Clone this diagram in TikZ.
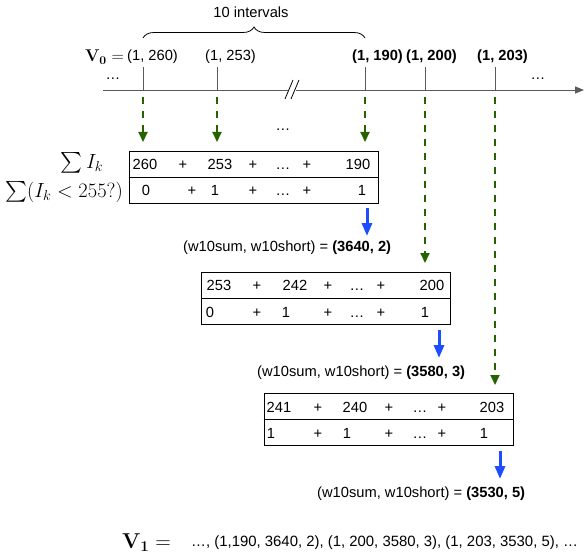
\RequirePackage{fix-cm}
\documentclass[tikz,border=0pt]{standalone}
\usepackage{exscale}
\usepackage[no-math]{fontspec}
\setmainfont{Liberation Sans}
\usetikzlibrary{arrows.meta,decorations.pathreplacing}
\definecolor{feedgreen}{RGB}{38,98,0}
\definecolor{sumblue}{RGB}{28,78,255}
\definecolor{axisgray}{RGB}{90,90,90}
\newcommand{\gapdots}{…}
\begin{document}
\begin{tikzpicture}[x=1pt,y=-1pt,
  every node/.style={inner sep=0pt, font=\fontsize{14.7}{17}\selectfont},
  celltxt/.style={text height=10.5pt, text depth=0pt},
  ticklbl/.style={anchor=west},
  tickline/.style={draw=axisgray, line width=0.9pt},
  feed/.style={feedgreen, line width=1.8pt, dash pattern=on 7pt off 7pt,
    -{Triangle[width=9pt,length=10pt]}},
  reduce/.style={sumblue, line width=3pt, -{Triangle[width=10pt,length=13pt]}},
  cellbox/.style={draw, line width=0.9pt, minimum width=249pt, minimum height=52pt},
  result/.style={anchor=west},
  mathlbl/.style={font=\fontsize{17}{19}\selectfont},
  sumlbl/.style={font=\fontsize{20.5}{23}\selectfont}]

\useasboundingbox (0,0) rectangle (586,556);

% ---- time axis with break ----
\coordinate (ax0) at (103,90);
\coordinate (ax1) at (584,90);
\draw[tickline, -{Triangle[width=7pt,length=9pt]}] (ax0) -- (ax1);
\fill[white] (289,86) rectangle (296,94);
\coordinate (brA0) at (285,99); \coordinate (brA1) at (293,80);
\coordinate (brB0) at (291,99); \coordinate (brB1) at (299,80);
\draw[line width=0.8pt] (brA0) -- (brA1);
\draw[line width=0.8pt] (brB0) -- (brB1);

% ticks
\foreach \x [count=\i] in {143,217,365,425,495} {
  \coordinate (t\i) at (\x,67);
  \coordinate (b\i) at (\x,90);
  \draw[tickline] (t\i) -- (b\i);
}

% axis labels
\node[mathlbl, anchor=east] (v0) at (124,57) {$\mathbf{V_0} =$};
\node[ticklbl] (l1) at (127,57) {(1, 260)};
\node[ticklbl] (l2) at (205,57) {(1, 253)};
\node[ticklbl] (l3) at (352,57) {\bfseries (1, 190)};
\node[ticklbl] (l4) at (406,57) {\bfseries (1, 200)};
\node[ticklbl] (l5) at (477,57) {\bfseries (1, 203)};
\node[celltxt] (dl) at (113,74) {\gapdots};
\node[celltxt] (dr) at (538,74) {\gapdots};

% brace over the window
\coordinate (brL) at (143,38);
\coordinate (brR) at (365,38);
\draw[line width=0.8pt, decorate, decoration={brace, amplitude=11pt, aspect=0.5}] (brL) -- (brR);
\node (win) at (251,12) {10 intervals};

% ---- green feed arrows ----
\foreach \i/\e in {1/142,2/142,3/142,4/263,5/385} {
  \path (b\i) ++(0,7) coordinate (gs\i);
  \path (b\i |- 0,\e) coordinate (ge\i);
  \draw[feed] (gs\i) -- (ge\i);
}
\node[celltxt] (dmid) at (283,125) {\gapdots};

% ---- window 1 ----
\node[cellbox] (w1) at (253.5,177) {};
\draw[line width=0.9pt] (w1.west) -- (w1.east);
\foreach \x/\t [count=\i] in {145/260,183/+,220/253,253/+,283/\gapdots,307/+,358/190}
  \node[celltxt] (wa\i) at (\x,164) {\t};
\foreach \x/\t [count=\i] in {146/0,192/+,215/1,253/+,283/\gapdots,307/+,362/1}
  \node[celltxt] (wb\i) at (\x,190) {\t};
\node[sumlbl] (suma) at (82,163) {$\sum I_k$};
\node[sumlbl] (sumb) at (64,192) {$\sum(I_k < 255?)$};
\coordinate (r1s) at (367,208);
\coordinate (r1e) at (367,236);
\draw[reduce] (r1s) -- (r1e);
\node[result] (o1) at (183,248) {(w10sum, w10short) = \textbf{(3640, 2)}};

% ---- window 2 ----
\node[cellbox] (w2) at (326,298.5) {};
\draw[line width=0.9pt] (w2.west) -- (w2.east);
\foreach \x/\t [count=\i] in {219/253,257/+,295/242,328/+,357/\gapdots,381/+,432/200}
  \node[celltxt] (xa\i) at (\x,285) {\t};
\foreach \x/\t [count=\i] in {210/0,257/+,286/1,328/+,357/\gapdots,381/+,425/1}
  \node[celltxt] (xb\i) at (\x,312) {\t};
\coordinate (r2s) at (439,330);
\coordinate (r2e) at (439,358);
\draw[reduce] (r2s) -- (r2e);
\node[result] (o2) at (257,373) {(w10sum, w10short) = \textbf{(3580, 3)}};

% ---- window 3 ----
\node[cellbox] (w3) at (388.5,419.5) {};
\draw[line width=0.9pt] (w3.west) -- (w3.east);
\foreach \x/\t [count=\i] in {279/241,318/+,355/240,389/+,420/\gapdots,442/+,492/203}
  \node[celltxt] (ya\i) at (\x,407) {\t};
\foreach \x/\t [count=\i] in {271/1,318/+,347/1,389/+,420/\gapdots,442/+,484/1}
  \node[celltxt] (yb\i) at (\x,433) {\t};
\coordinate (r3s) at (500,451);
\coordinate (r3e) at (500,479);
\draw[reduce] (r3s) -- (r3e);
\node[result] (o3) at (317,494) {(w10sum, w10short) = \textbf{(3530, 5)}};

% ---- output stream ----
\node[font=\fontsize{21.5}{24}\selectfont, anchor=east] (v1) at (171,543) {$\mathbf{V_1} =$};
\node[anchor=west, font=\fontsize{14.9}{17}\selectfont] (v1list) at (191,543) {\gapdots, (1,190, 3640, 2), (1, 200, 3580, 3), (1, 203, 3530, 5), \gapdots};
\end{tikzpicture}
\end{document}
